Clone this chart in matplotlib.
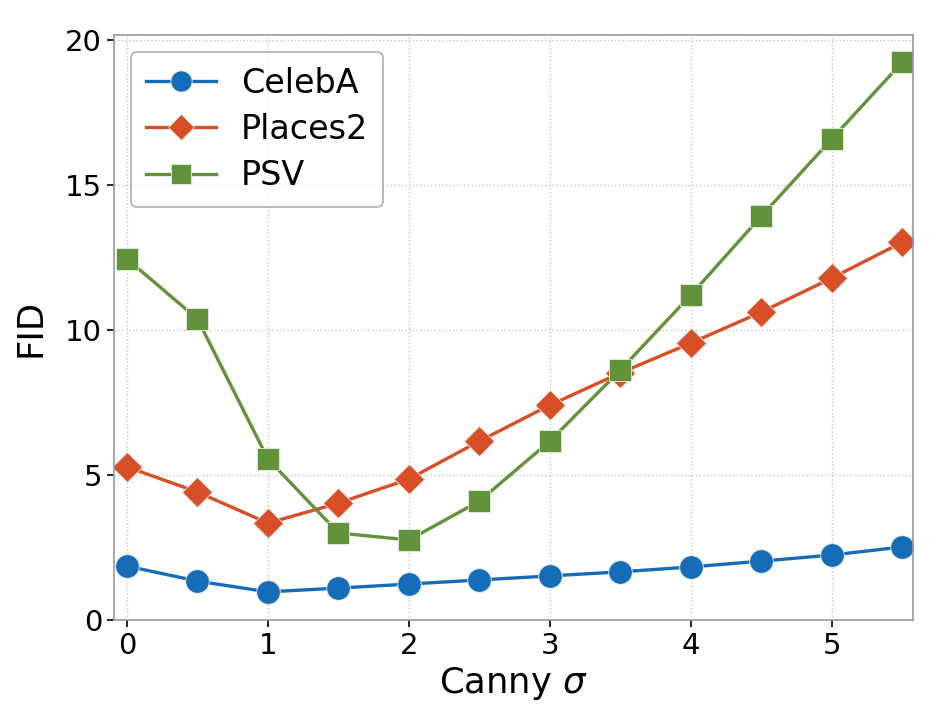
import matplotlib
matplotlib.use("Agg")
import matplotlib.pyplot as plt

sigma = [0, 0.5, 1, 1.5, 2, 2.5, 3, 3.5, 4, 4.5, 5, 5.5]
celeba = [1.86, 1.34, 0.97, 1.10, 1.24, 1.38, 1.52, 1.66, 1.83, 2.03, 2.24, 2.52]
places2 = [5.28, 4.41, 3.34, 4.03, 4.86, 6.17, 7.41, 8.52, 9.55, 10.62, 11.79, 13.03]
psv = [12.45, 10.38, 5.55, 3.00, 2.76, 4.10, 6.17, 8.62, 11.21, 13.93, 16.59, 19.24]

fig = plt.figure(figsize=(9.51, 7.13), dpi=100)
ax = fig.add_axes([114/951, 1-620/713, (913-114)/951, (620-35)/713])

ax.plot(sigma, celeba, '-o', color='#166cb7', lw=2.4, ms=17, mec='#e8eef6', mew=0.6, label='CelebA')
ax.plot(sigma, places2, '-D', color='#d84f27', lw=2.4, ms=15, mec='#f6e6e0', mew=0.6, label='Places2')
ax.plot(sigma, psv, '-s', color='#62923a', lw=2.4, ms=16, mec='#e6efe0', mew=0.6, label='PSV')

ax.set_xlim(-0.092, 5.575)
ax.set_ylim(0, 20.17)
ax.set_xticks([0, 1, 2, 3, 4, 5])
ax.set_yticks([0, 5, 10, 15, 20])
ax.grid(True, linestyle=':', color='#c8c8c8', lw=1.0)
ax.set_axisbelow(True)
for s in ax.spines.values():
    s.set_color('#999999')
    s.set_linewidth(1.2)
ax.tick_params(labelsize=21, length=5, width=1.2, color='black')
ax.set_xlabel(r'Canny $\sigma$', fontsize=25.5, labelpad=4)
ax.set_ylabel('FID', fontsize=25.5, labelpad=13)
leg = ax.legend(loc='upper left', fontsize=24, frameon=True, fancybox=True,
                edgecolor='#999999', borderpad=0.45, handlelength=2.1, labelspacing=0.4,
                borderaxespad=0.5, handletextpad=0.75, markerscale=0.9)
leg.get_frame().set_linewidth(1.2)

fig.savefig('out.png', dpi=100)
